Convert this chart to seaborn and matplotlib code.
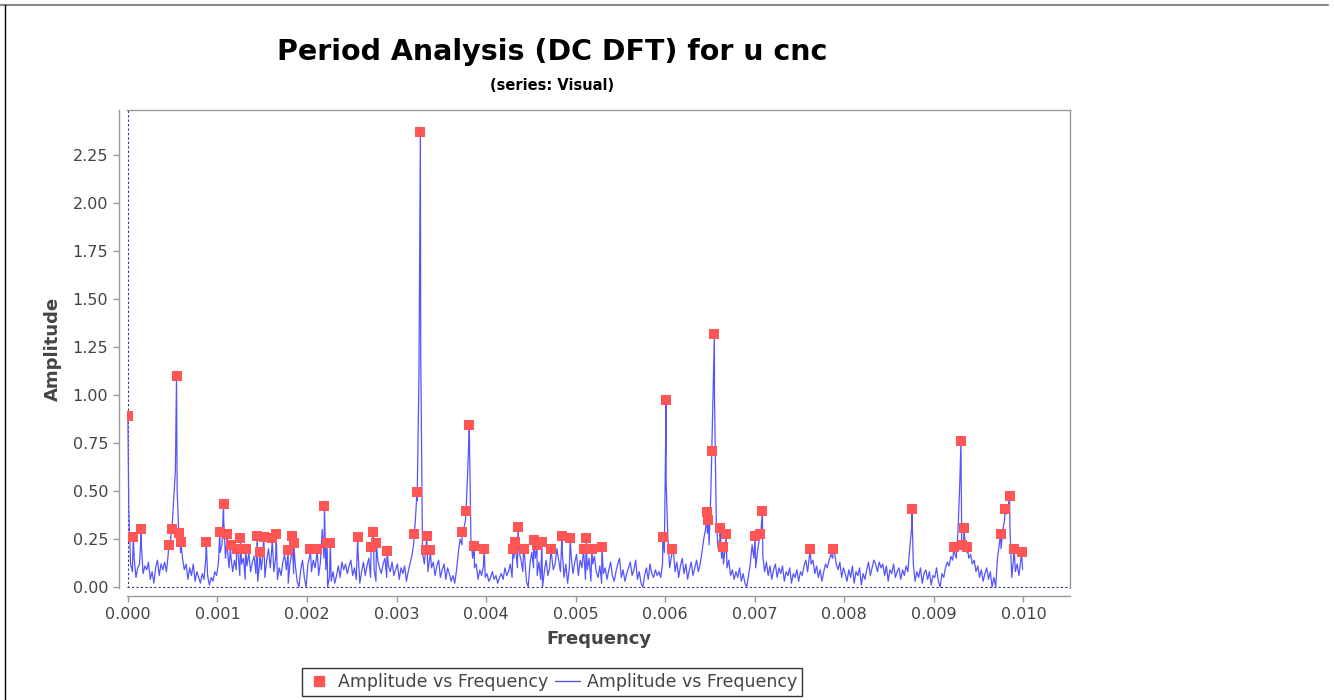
import numpy as np
import pandas as pd
import seaborn as sns
import matplotlib.pyplot as plt
from matplotlib.lines import Line2D
from matplotlib.ticker import FormatStrFormatter

spectrum_start = 0.00001
spectrum_step = 0.00002
spectrum_amp = [
    0.40, 0.12, 0.08, 0.15, 0.05, 0.10, 0.12, 0.22, 0.07, 0.11, 0.09, 0.13, 0.04, 0.08, 0.02, 0.10, 0.14, 0.06, 0.12, 0.09,
    0.13, 0.08, 0.17, 0.22, 0.28, 0.45, 0.60, 0.50, 0.26, 0.18, 0.15, 0.09, 0.12, 0.04, 0.10, 0.06, 0.12, 0.03, 0.08, 0.05,
    0.02, 0.07, 0.04, 0.15, 0.06, 0.01, 0.05, 0.03, 0.08, 0.06, 0.12, 0.18, 0.22, 0.35, 0.15, 0.20, 0.10, 0.16, 0.08, 0.14,
    0.09, 0.17, 0.06, 0.12, 0.15, 0.04, 0.11, 0.18, 0.08, 0.13, 0.16, 0.07, 0.03, 0.12, 0.09, 0.19, 0.05, 0.14, 0.20, 0.10,
    0.22, 0.08, 0.15, 0.04, 0.10, 0.06, 0.13, 0.17, 0.09, 0.02, 0.12, 0.18, 0.07, 0.11, 0.03, 0.00, 0.09, 0.14, 0.05, 0.00,
    0.12, 0.16, 0.08, 0.14, 0.10, 0.17, 0.06, 0.13, 0.30, 0.15, 0.09, 0.00, 0.05, 0.03, 0.08, 0.02, 0.06, 0.11, 0.05, 0.13,
    0.09, 0.12, 0.07, 0.11, 0.14, 0.06, 0.10, 0.04, 0.18, 0.02, 0.08, 0.13, 0.06, 0.11, 0.15, 0.05, 0.20, 0.09, 0.03, 0.14,
    0.10, 0.07, 0.12, 0.15, 0.05, 0.11, 0.08, 0.13, 0.06, 0.09, 0.12, 0.04, 0.10, 0.07, 0.11, 0.03, 0.08, 0.12, 0.16, 0.22,
    0.35, 0.45, 1.10, 1.20, 0.18, 0.12, 0.20, 0.08, 0.15, 0.10, 0.13, 0.06, 0.11, 0.14, 0.05, 0.09, 0.12, 0.04, 0.10, 0.07,
    0.03, 0.06, 0.02, 0.09, 0.18, 0.25, 0.22, 0.30, 0.35, 0.55, 0.80, 0.25, 0.15, 0.10, 0.12, 0.04, 0.09, 0.06, 0.11, 0.05,
    0.07, 0.03, 0.05, 0.08, 0.04, 0.06, 0.02, 0.05, 0.07, 0.04, 0.10, 0.06, 0.08, 0.12, 0.05, 0.15, 0.20, 0.10, 0.18, 0.14,
    0.08, 0.16, 0.03, 0.00, 0.12, 0.18, 0.10, 0.15, 0.06, 0.13, 0.04, 0.00, 0.08, 0.14, 0.06, 0.10, 0.17, 0.09, 0.12, 0.20,
    0.14, 0.08, 0.19, 0.05, 0.12, 0.02, 0.10, 0.16, 0.07, 0.13, 0.17, 0.06, 0.14, 0.10, 0.18, 0.04, 0.09, 0.15, 0.03, 0.12,
    0.16, 0.08, 0.05, 0.11, 0.02, 0.07, 0.10, 0.04, 0.09, 0.13, 0.06, 0.03, 0.08, 0.12, 0.15, 0.05, 0.09, 0.03, 0.07, 0.10,
    0.13, 0.06, 0.09, 0.14, 0.04, 0.08, 0.02, 0.00, 0.06, 0.10, 0.04, 0.12, 0.07, 0.05, 0.09, 0.06, 0.08, 0.05, 0.12, 0.18,
    0.55, 0.25, 0.10, 0.16, 0.20, 0.08, 0.13, 0.05, 0.11, 0.15, 0.07, 0.12, 0.04, 0.09, 0.13, 0.06, 0.10, 0.14, 0.08, 0.12,
    0.18, 0.25, 0.30, 0.28, 0.22, 0.50, 0.90, 1.00, 0.35, 0.20, 0.25, 0.15, 0.12, 0.20, 0.10, 0.14, 0.06, 0.09, 0.04, 0.08,
    0.05, 0.10, 0.03, 0.07, 0.02, 0.00, 0.06, 0.12, 0.22, 0.15, 0.10, 0.18, 0.25, 0.30, 0.16, 0.08, 0.13, 0.06, 0.11, 0.04,
    0.09, 0.12, 0.05, 0.10, 0.07, 0.11, 0.03, 0.08, 0.06, 0.10, 0.02, 0.07, 0.05, 0.09, 0.03, 0.08, 0.06, 0.11, 0.14, 0.08,
    0.16, 0.12, 0.14, 0.07, 0.11, 0.05, 0.09, 0.03, 0.08, 0.12, 0.10, 0.14, 0.17, 0.15, 0.18, 0.12, 0.09, 0.13, 0.05, 0.10,
    0.07, 0.03, 0.09, 0.05, 0.11, 0.02, 0.08, 0.06, 0.10, 0.01, 0.07, 0.04, 0.09, 0.13, 0.06, 0.10, 0.14, 0.12, 0.08, 0.13,
    0.10, 0.12, 0.06, 0.11, 0.03, 0.09, 0.07, 0.12, 0.05, 0.08, 0.10, 0.04, 0.09, 0.06, 0.11, 0.08, 0.20, 0.30, 0.12, 0.03,
    0.08, 0.05, 0.10, 0.02, 0.07, 0.09, 0.04, 0.08, 0.01, 0.06, 0.05, 0.10, 0.03, 0.00, 0.07, 0.05, 0.10, 0.13, 0.11, 0.16,
    0.14, 0.18, 0.15, 0.30, 0.55, 0.30, 0.20, 0.22, 0.18, 0.15, 0.17, 0.12, 0.14, 0.08, 0.11, 0.05, 0.09, 0.03, 0.07, 0.10,
    0.04, 0.08, 0.00, 0.05, 0.00, 0.15, 0.22, 0.20, 0.30, 0.35, 0.38, 0.42, 0.30, 0.05, 0.15, 0.08, 0.12, 0.06, 0.14, 0.09,
]

# local maxima flagged by the period analysis (red squares)
peak_freq = [
    0.0, 0.000060, 0.000150, 0.000457, 0.000488, 0.000543, 0.000573, 0.000591,
    0.000875, 0.001026, 0.001068, 0.001109, 0.001146, 0.001213, 0.001257, 0.001314,
    0.001444, 0.001473, 0.001517, 0.001611, 0.001656, 0.001790, 0.001834, 0.001852,
    0.002038, 0.002113, 0.002195, 0.002225, 0.002261, 0.002566, 0.002716, 0.002738,
    0.002775, 0.002894, 0.003199, 0.003229, 0.003266, 0.003325, 0.003336, 0.003377,
    0.003734, 0.003776, 0.003812, 0.003868, 0.003979, 0.004300, 0.004326, 0.004356,
    0.004418, 0.004530, 0.004568, 0.004623, 0.004724, 0.004847, 0.004939, 0.005088,
    0.005118, 0.005181, 0.005293, 0.005974, 0.006010, 0.006081, 0.006464, 0.006482,
    0.006520, 0.006549, 0.006613, 0.006643, 0.006680, 0.007003, 0.007059, 0.007085,
    0.007617, 0.007877, 0.008755, 0.009224, 0.009302, 0.009310, 0.009336, 0.009372,
    0.009745, 0.009793, 0.009845, 0.009896, 0.009979,
]
peak_amp = [
    0.890, 0.259, 0.300, 0.219, 0.300, 1.100, 0.280, 0.236,
    0.236, 0.285, 0.432, 0.276, 0.219, 0.200, 0.257, 0.200,
    0.266, 0.184, 0.262, 0.254, 0.276, 0.193, 0.267, 0.228,
    0.200, 0.200, 0.423, 0.228, 0.228, 0.259, 0.210, 0.285,
    0.228, 0.188, 0.276, 0.496, 2.370, 0.193, 0.267, 0.193,
    0.288, 0.397, 0.844, 0.215, 0.196, 0.200, 0.236, 0.311,
    0.200, 0.245, 0.219, 0.236, 0.196, 0.266, 0.254, 0.200,
    0.254, 0.200, 0.210, 0.259, 0.974, 0.200, 0.392, 0.349,
    0.710, 1.318, 0.309, 0.210, 0.274, 0.266, 0.276, 0.397,
    0.196, 0.200, 0.405, 0.210, 0.760, 0.219, 0.305, 0.210,
    0.276, 0.405, 0.474, 0.200, 0.184,
]

red = '#ff5555'
blue = '#5555ff'

grid_freq = spectrum_start + spectrum_step * np.arange(len(spectrum_amp))
df_line = pd.DataFrame({'freq': np.concatenate([grid_freq, peak_freq]),
                        'amp': np.concatenate([spectrum_amp, peak_amp])})
df_line = df_line.sort_values('freq').reset_index(drop=True)
df_peaks = pd.DataFrame({'freq': peak_freq, 'amp': peak_amp})

sns.set_style('white')
plt.rcParams['font.family'] = ['DejaVu Sans']

fig = plt.figure(figsize=(13.34, 7.0), dpi=100)
ax = fig.add_axes([127 / 1334, 1 - 588 / 700, (1070 - 127) / 1334, (588 - 110) / 700])

sns.lineplot(data=df_line, x='freq', y='amp', ax=ax, color=blue, linewidth=0.9,
             estimator=None, sort=False, zorder=3)
sns.scatterplot(data=df_peaks, x='freq', y='amp', ax=ax, marker='s', s=52,
                color=red, linewidth=0, zorder=4)

# zero crosshairs
ax.axhline(0, color='#333388', lw=0.8, ls=(0, (2, 2)), zorder=2)
ax.axvline(0, color='#333388', lw=0.8, ls=(0, (2, 2)), zorder=2)

ax.set_xlim(-0.00001, 0.01052)
ax.set_ylim(-0.005, 2.485)
ax.set_xticks(np.arange(0, 0.0105, 0.001))
ax.set_yticks(np.arange(0, 2.3, 0.25))
ax.xaxis.set_major_formatter(FormatStrFormatter('%.3f'))
ax.yaxis.set_major_formatter(FormatStrFormatter('%.2f'))

for s in ['top', 'right']:
    ax.spines[s].set_color('#999999')
    ax.spines[s].set_linewidth(1.0)
for s in ['left', 'bottom']:
    ax.spines[s].set_position(('outward', 6))
    ax.spines[s].set_color('#999999')
    ax.spines[s].set_linewidth(1.0)

ax.tick_params(axis='both', direction='out', length=4, width=1, color='#999999',
               labelcolor='#444444', labelsize=11.5, left=True, bottom=True)
ax.set_xlabel('Frequency', fontsize=13, fontweight='bold', color='#444444', labelpad=6)
ax.set_ylabel('Amplitude', fontsize=13, fontweight='bold', color='#444444', labelpad=8)

cx = 552 / 1334
fig.text(cx, 1 - 52 / 700, 'Period Analysis (DC DFT) for u cnc', ha='center', va='center',
         fontsize=20.5, fontweight='bold', color='black')
fig.text(cx, 1 - 86 / 700, '(series: Visual)', ha='center', va='center',
         fontsize=10.5, fontweight='bold', color='black')

handles = [Line2D([], [], marker='s', color=red, linestyle='none', markersize=7),
           Line2D([], [], color=blue, linewidth=1.0)]
leg = fig.legend(handles, ['Amplitude vs Frequency', 'Amplitude vs Frequency'],
                 loc='center', bbox_to_anchor=(cx, 1 - 682 / 700), ncol=2, fontsize=12.5,
                 frameon=True, fancybox=False, borderpad=0.3, handlelength=1.4,
                 handletextpad=0.4, columnspacing=0.4, labelcolor='#444444')
leg.get_frame().set_edgecolor('black')
leg.get_frame().set_linewidth(1.0)

# panel border
fig.add_artist(Line2D([0, 1328 / 1334], [1 - 5 / 700, 1 - 5 / 700], color='#888888', lw=1.5))
fig.add_artist(Line2D([5 / 1334, 5 / 1334], [0, 1 - 5 / 700], color='black', lw=1.0))

fig.savefig('out.png', dpi=100)
